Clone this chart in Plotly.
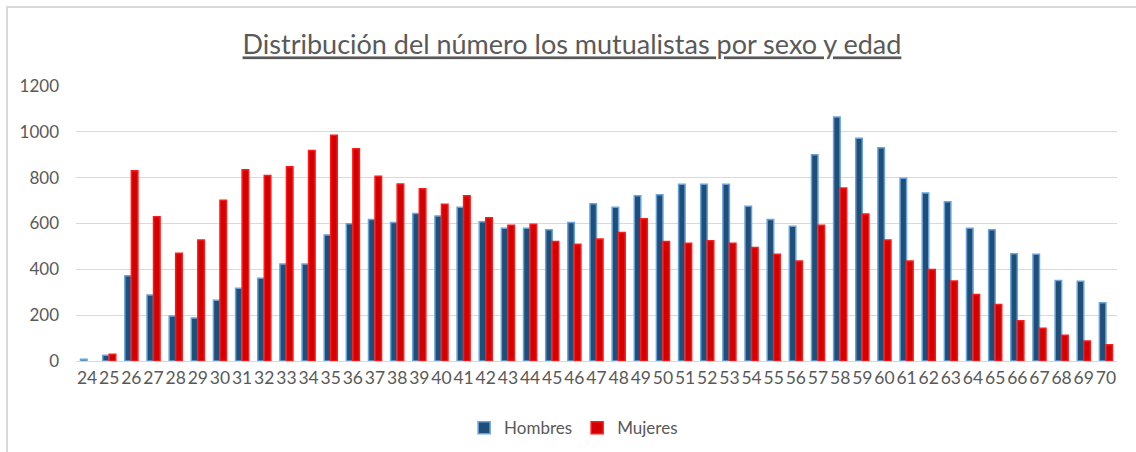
import plotly.graph_objects as go

edades = [str(a) for a in range(24, 71)]
hombres = [8, 25, 372, 288, 196, 188, 265, 317, 361, 423, 423, 550, 599, 617,
           604, 644, 633, 671, 608, 579, 579, 573, 604, 686, 671, 721, 726, 771,
           771, 771, 675, 617, 588, 900, 1065, 972, 931, 797, 733, 695, 579, 573,
           468, 466, 351, 348, 254]
mujeres = [None, 30, 830, 630, 470, 528, 701, 835, 810, 848, 919, 985, 926, 806,
           772, 752, 684, 721, 625, 592, 597, 521, 509, 532, 561, 621, 521, 514,
           525, 514, 495, 466, 436, 592, 755, 641, 528, 436, 399, 349, 290, 247,
           176, 143, 112, 87, 71]
y_ticks = [0, 200, 400, 600, 800, 1000, 1200]

FONT = "Lato"
GRAY = "#595959"

fig = go.Figure()
fig.add_trace(go.Bar(
    name="Hombres", x=edades, y=hombres,
    marker=dict(color="#1F4E79", line=dict(color="#6AA3DA", width=1.5)),
))
fig.add_trace(go.Bar(
    name="Mujeres", x=edades, y=mujeres,
    marker=dict(color="#D40000", line=dict(color="#FF1A1A", width=1.5)),
))

fig.update_layout(
    width=1136, height=452,
    margin=dict(l=76, r=19, t=86, b=91, autoexpand=False),
    paper_bgcolor="white", plot_bgcolor="white",
    barmode="group", bargap=0.41, bargroupgap=0,
    font=dict(family=FONT, color=GRAY, size=17),
    title=dict(
        text="<u>Distribución del número los mutualistas por sexo y edad</u>",
        x=0.5035, xanchor="center", xref="container",
        y=1 - 45 / 452, yanchor="middle", yref="container",
        font=dict(family=FONT, size=27, color=GRAY),
    ),
    xaxis=dict(
        type="category", showgrid=False, showline=False, zeroline=False,
        ticks="", tickangle=0, tickfont=dict(size=17.5, color=GRAY),
        ticklabelstandoff=4,
    ),
    yaxis=dict(
        range=[0, 1200], tickvals=y_ticks, showgrid=True, gridcolor="#D9D9D9",
        gridwidth=1, zeroline=True, zerolinecolor="#D9D9D9", zerolinewidth=1,
        showline=False, ticks="", tickfont=dict(size=17, color=GRAY),
        ticklabelstandoff=16,
    ),
    legend=dict(
        orientation="h", x=0.478, xanchor="center", y=-0.244, yanchor="middle",
        font=dict(size=17, color=GRAY), traceorder="normal",
        itemwidth=30, tracegroupgap=0,
    ),
    shapes=[dict(
        type="rect", xref="paper", yref="paper",
        x0=(7 - 76) / 1041, x1=1.2, y0=-0.6, y1=(361 - 7) / 275,
        line=dict(color="#D9D9D9", width=2), fillcolor="rgba(0,0,0,0)",
        layer="below",
    )],
)

fig.write_html(
    "out.html",
    config={"displayModeBar": False},
    post_script="document.body.style.margin='0';document.body.style.overflow='hidden';",
)
